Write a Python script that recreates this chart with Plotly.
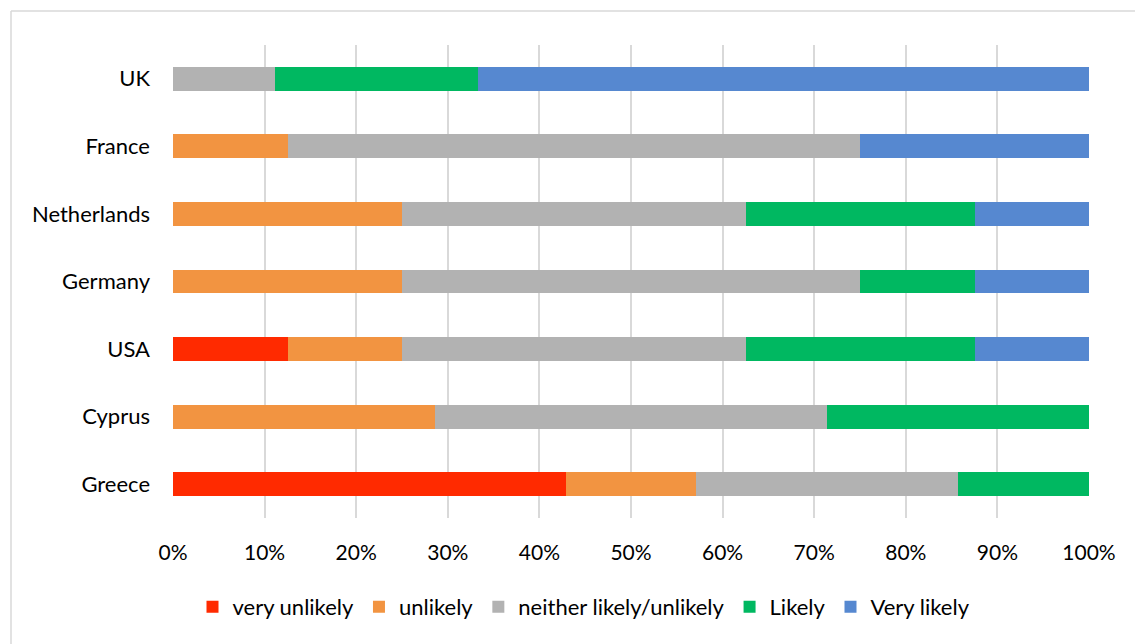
import plotly.graph_objects as go

countries = ["Greece", "Cyprus", "USA", "Germany", "Netherlands", "France", "UK"]
very_unlikely = [42.86, 0, 12.5, 0, 0, 0, 0]
unlikely = [14.29, 28.57, 12.5, 25, 25, 12.5, 0]
neither = [28.57, 42.86, 37.5, 50, 37.5, 62.5, 11.11]
likely = [14.28, 28.57, 25, 12.5, 25, 0, 22.22]
very_likely = [0, 0, 12.5, 12.5, 12.5, 25, 66.67]

series = [
    ("very unlikely", very_unlikely, "#FF2A00"),
    ("unlikely", unlikely, "#F29441"),
    ("neither likely/unlikely", neither, "#B2B2B2"),
    ("Likely", likely, "#00B861"),
    ("Very likely", very_likely, "#5688D0"),
]

fig = go.Figure()
for name, vals, color in series:
    fig.add_trace(go.Bar(
        y=countries, x=[v / 100 for v in vals], name=name, orientation="h",
        marker=dict(color=color, line=dict(width=0)),
    ))

W, H = 1135, 644
L, R, T, B = 173, 1089, 45, 518
fig.update_layout(
    width=W, height=H,
    barmode="stack", bargap=0.645,
    margin=dict(l=L, r=W - R, t=T, b=H - B, autoexpand=False),
    paper_bgcolor="white", plot_bgcolor="white",
    font=dict(family="Lato, Carlito, sans-serif", size=22, color="#000000"),
    showlegend=True,
    legend=dict(
        orientation="h", xref="container", yref="container",
        x=584 / W, xanchor="center", y=1 - 607 / H, yanchor="middle",
        font=dict(size=22), traceorder="normal", itemwidth=30,
    ),
    xaxis=dict(
        range=[0, 1], tickformat=".0%", dtick=0.1,
        showgrid=True, gridcolor="#D9D9D9", gridwidth=1.5,
        zeroline=False, showline=False, ticks="", ticklabelstandoff=20,
        tickfont=dict(size=21),
        fixedrange=True,
    ),
    yaxis=dict(
        showgrid=False, zeroline=False, showline=False, ticks="",
        ticklabelstandoff=22, categoryorder="array", categoryarray=countries,
    ),
    shapes=[
        dict(type="line", xref="paper", yref="paper",
             x0=(11 - L) / (R - L), x1=(11 - L) / (R - L),
             y0=(B - 11) / (B - T), y1=(B - 700) / (B - T),
             line=dict(color="#D9D9D9", width=1.5)),
        dict(type="line", xref="paper", yref="paper",
             x0=(11 - L) / (R - L), x1=(1200 - L) / (R - L),
             y0=(B - 11) / (B - T), y1=(B - 11) / (B - T),
             line=dict(color="#D9D9D9", width=1.5)),
    ],
)

fig.write_html("out.html", config={"displayModeBar": False},
               post_script="document.body.style.margin='0';")
